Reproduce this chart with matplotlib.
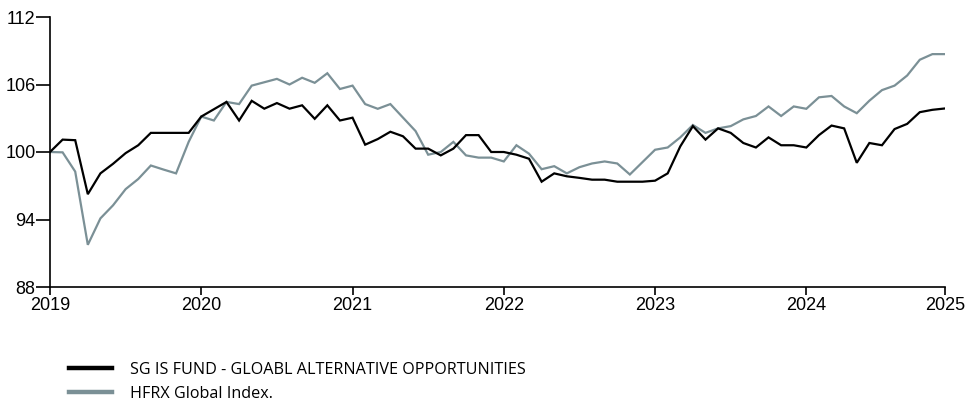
import matplotlib
matplotlib.use("Agg")
import matplotlib.pyplot as plt
from matplotlib.lines import Line2D

# Monthly index values, Jan 2019 .. end 2024 (72 points)
sg_fund = [100.0, 101.1, 101.05, 96.25, 98.1, 98.95, 99.9, 100.6, 101.7, 101.7, 101.7, 101.7,
           103.15, 103.8, 104.45, 102.8, 104.55, 103.85, 104.35, 103.85, 104.15, 102.95, 104.15, 102.8,
           103.05, 100.65, 101.15, 101.8, 101.4, 100.3, 100.3, 99.7, 100.3, 101.5, 101.5, 100.0,
           100.0, 99.76, 99.4, 97.36, 98.1, 97.84, 97.7, 97.54, 97.54, 97.36, 97.36, 97.36,
           97.45, 98.1, 100.5, 102.3, 101.1, 102.1, 101.7, 100.8, 100.4, 101.3, 100.6, 100.6,
           100.4, 101.5, 102.35, 102.1, 99.04, 100.8, 100.6, 102.04, 102.5, 103.54, 103.75, 103.87]
hfrx = [100.0, 99.97, 98.26, 91.75, 94.1, 95.26, 96.7, 97.6, 98.8, 98.44, 98.1, 100.9,
        103.15, 102.8, 104.45, 104.26, 105.9, 106.2, 106.5, 106.0, 106.6, 106.15, 107.0, 105.6,
        105.9, 104.26, 103.84, 104.26, 103.06, 101.86, 99.76, 100.0, 100.9, 99.7, 99.5, 99.5,
        99.16, 100.6, 99.85, 98.47, 98.74, 98.1, 98.65, 98.98, 99.16, 98.98, 98.0, 99.1,
        100.2, 100.4, 101.3, 102.4, 101.7, 102.1, 102.3, 102.9, 103.2, 104.05, 103.2, 104.05,
        103.84, 104.86, 104.98, 104.05, 103.45, 104.56, 105.5, 105.9, 106.8, 108.2, 108.7, 108.7]
x_tick_pos = [0, 12, 24, 36, 48, 60, 71]
x_tick_labels = ["2019", "2020", "2021", "2022", "2023", "2024", "2025"]
y_ticks = [88, 94, 100, 106, 112]
series_names = ["SG IS FUND - GLOABL ALTERNATIVE OPPORTUNITIES", "HFRX Global Index."]

BLACK = "#000000"
GRAY = "#7b9096"

fig = plt.figure(figsize=(9.65, 4.01), dpi=100)
ax = fig.add_axes([50 / 965, 1 - 287 / 401, 895 / 965, 270 / 401])

x = list(range(len(sg_fund)))
ax.plot(x, hfrx, color=GRAY, lw=1.6, solid_joinstyle="miter")
ax.plot(x, sg_fund, color=BLACK, lw=1.6, solid_joinstyle="miter")

ax.set_xlim(0, 71)
ax.set_ylim(88, 112)
ax.set_xticks(x_tick_pos)
ax.set_xticklabels(x_tick_labels)
ax.set_yticks(y_ticks)
ax.set_yticklabels([str(v) for v in y_ticks])
for s in ["top", "right"]:
    ax.spines[s].set_visible(False)
for s in ["left", "bottom"]:
    ax.spines[s].set_linewidth(1.2)
    ax.spines[s].set_color("black")
ax.tick_params(axis="x", direction="out", length=6, width=1.2, color="black",
               labelsize=13, pad=1.5)
ax.tick_params(axis="y", direction="out", length=10, width=1.2, color="black",
               labelsize=13, pad=0.5)
for lab in ax.get_xticklabels() + ax.get_yticklabels():
    lab.set_family(["Liberation Sans", "DejaVu Sans"])

handles = [Line2D([0], [0], color=BLACK, lw=3.2),
           Line2D([0], [0], color=GRAY, lw=3.2)]
fig.legend(handles, series_names, loc="upper left", bbox_to_anchor=(69 / 965, 1 - 362 / 401),
           frameon=False, handlelength=2.67, handletextpad=1.12, labelspacing=0.5,
           prop={"family": ["Open Sans", "DejaVu Sans"], "size": 11.6}, borderaxespad=0,
           borderpad=0)

fig.savefig("out.png", dpi=100)
